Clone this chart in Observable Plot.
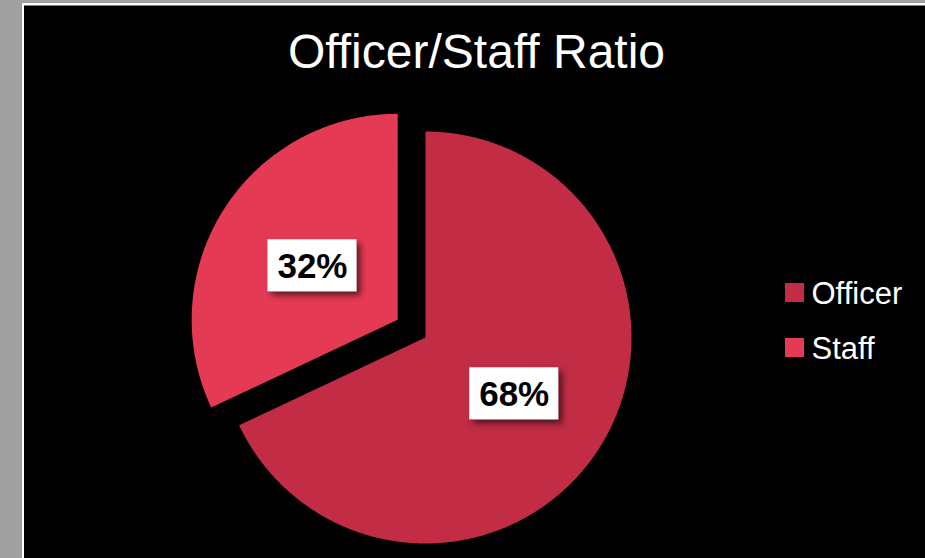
<!DOCTYPE html>
<html>
<head>
<meta charset="utf-8">
<script src="https://cdn.jsdelivr.net/npm/d3@7"></script>
<script src="https://cdn.jsdelivr.net/npm/@observablehq/plot@0.6"></script>
<style>
  html, body { margin: 0; padding: 0; background: #a0a0a0; }
  #chart { width: 925px; height: 558px; overflow: hidden; }
</style>
</head>
<body>
<div id="chart"></div>
<script>
// ---- data ----
const categories = ["Officer", "Staff"];
const values = [68, 32];
const labels = ["68%", "32%"];
const colors = ["#c22c45", "#e53a53"];
const explode = [0, 0.16];
const title = "Officer/Staff Ratio";

// ---- geometry derived from the data ----
const pie = d3.pie().sort(null).value(d => d)(values);
const points = [];
const labelPts = [];
pie.forEach((p, i) => {
  const mid = (p.startAngle + p.endAngle) / 2;
  const ox = explode[i] * Math.sin(mid), oy = explode[i] * Math.cos(mid);
  points.push({name: categories[i], x: ox, y: oy});
  const n = Math.max(2, Math.ceil((p.endAngle - p.startAngle) / (Math.PI / 360)));
  for (let k = 0; k <= n; k++) {
    const a = p.startAngle + (p.endAngle - p.startAngle) * k / n;
    points.push({name: categories[i], x: ox + Math.sin(a), y: oy + Math.cos(a)});
  }
  points.push({name: categories[i], x: ox, y: oy});
  const lr = i === 0 ? 0.51 : 0.49;
  labelPts.push({name: categories[i], label: labels[i], x: ox + lr * Math.sin(mid), y: oy + lr * Math.cos(mid)});
});
const legend = categories.map((c, i) => ({name: c, i}));

// layout (pixels)
const W = 925, H = 558, cx = 425, cy = 337, R = 206;

const background = () => {
  const g = d3.create("svg:g");
  g.append("rect").attr("x", 0).attr("y", 0).attr("width", W).attr("height", H).attr("fill", "#a0a0a0");
  g.append("rect").attr("x", 22).attr("y", 3).attr("width", W).attr("height", H).attr("fill", "#ffffff");
  g.append("rect").attr("x", 24).attr("y", 5.5).attr("width", W).attr("height", H).attr("fill", "#000000");
  return g.node();
};

const labelBoxes = (index, scales) => {
  const g = d3.create("svg:g");
  const defs = g.append("defs");
  const f = defs.append("filter").attr("id", "shadow").attr("x", "-20%").attr("y", "-20%").attr("width", "150%").attr("height", "150%");
  f.append("feDropShadow").attr("dx", 4).attr("dy", 4).attr("stdDeviation", 3).attr("flood-color", "#000").attr("flood-opacity", 0.6);
  for (const d of labelPts) {
    const px = scales.x(d.x), py = scales.y(d.y);
    g.append("rect").attr("x", px - 44.5).attr("y", py - 26).attr("width", 89).attr("height", 52)
      .attr("fill", "#ffffff").attr("filter", "url(#shadow)");
  }
  return g.node();
};

const chart = Plot.plot({
  width: W,
  height: H,
  margin: 0,
  style: {background: "#a0a0a0", fontFamily: "Liberation Sans, Arial, sans-serif", overflow: "hidden"},
  x: {domain: [-1, 1], range: [cx - R, cx + R], axis: null},
  y: {domain: [-1, 1], range: [cy + R, cy - R], axis: null},
  color: {domain: categories, range: colors},
  marks: [
    background,
    Plot.line(points, {x: "x", y: "y", z: "name", fill: "name", stroke: null, curve: "linear"}),
    labelBoxes,
    Plot.text(labelPts, {x: "x", y: "y", text: "label", fill: "#000", fontSize: 35, fontWeight: "bold", dy: 1}),
    Plot.dot(legend, {x: () => (794 - cx) / R, y: d => (cy - 292 - d.i * 55) / R, symbol: "square", r: 10.7, fill: "name", stroke: null}),
    Plot.text(legend, {x: () => (811 - cx) / R, y: d => (cy - 293 - d.i * 55) / R, text: "name", fill: "#fff", fontSize: 31, textAnchor: "start", dy: 1}),
    Plot.text([title], {x: () => (476 - cx) / R, y: () => (cy - 52) / R, text: d => d, fill: "#fff", fontSize: 48})
  ]
});
document.getElementById("chart").appendChild(chart);
</script>
</body>
</html>
